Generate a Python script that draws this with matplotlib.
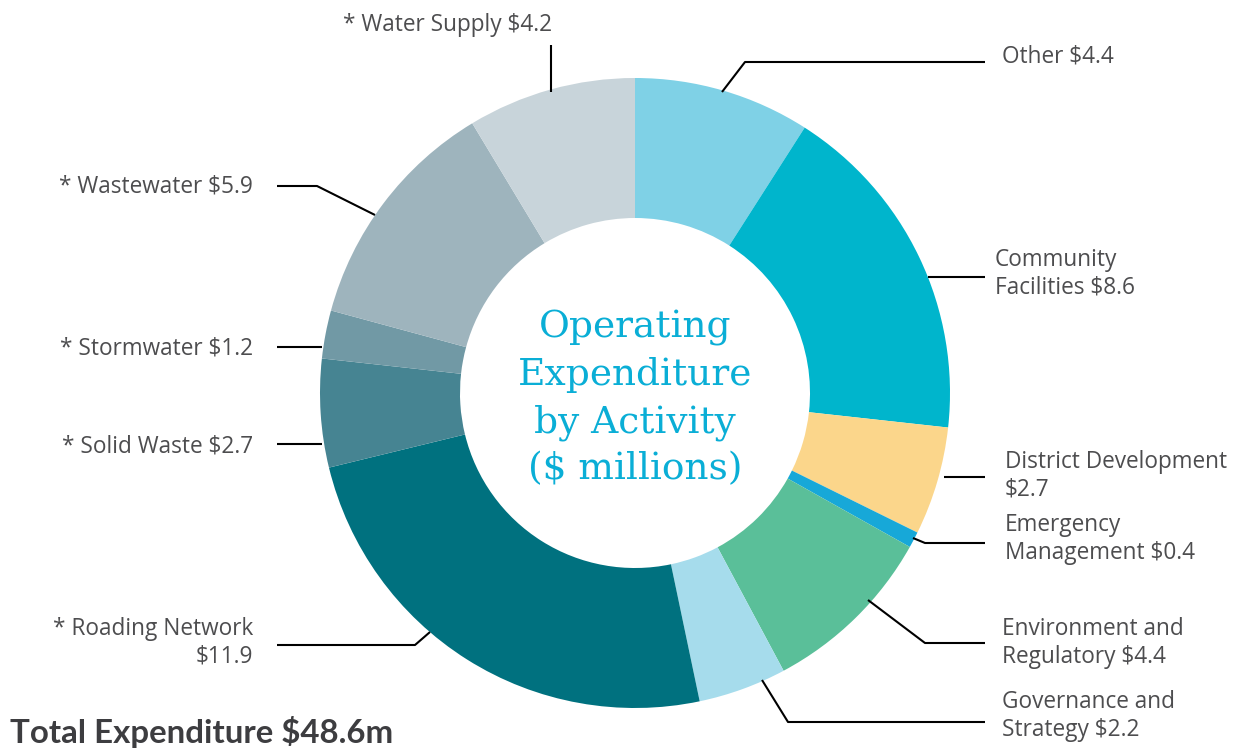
import matplotlib
matplotlib.use("Agg")
import matplotlib.pyplot as plt

categories = ["Other", "Community Facilities", "District Development", "Emergency Management",
              "Environment and Regulatory", "Governance and Strategy", "* Roading Network",
              "* Solid Waste", "* Stormwater", "* Wastewater", "* Water Supply"]
values = [4.4, 8.6, 2.7, 0.4, 4.4, 2.2, 11.9, 2.7, 1.2, 5.9, 4.2]
colors = ["#7fd1e6", "#00b5cc", "#fbd68b", "#17a8d8", "#5abf99", "#a6dcec", "#00717f",
          "#468492", "#7199a5", "#9eb4bd", "#c8d4da"]
label_texts = ["Other $4.4", "Community\nFacilities $8.6", "District Development\n$2.7",
               "Emergency\nManagement $0.4", "Environment and\nRegulatory $4.4",
               "Governance and\nStrategy $2.2", "* Roading Network\n$11.9",
               "* Solid Waste $2.7", "* Stormwater $1.2", "* Wastewater $5.9",
               "* Water Supply $4.2"]
total_label = "Total Expenditure $48.6m"
center_title = "Operating\nExpenditure\nby Activity\n($ millions)"

W, H = 1250, 749
fig = plt.figure(figsize=(W / 100, H / 100), dpi=100)
ax = fig.add_axes([0, 0, 1, 1])

def Y(y):
    return H - y

cx, cy, R, r_in = 635, 393, 315, 175
ax.pie(values, colors=colors, startangle=90, counterclock=False, center=(cx, Y(cy)),
       radius=R, wedgeprops=dict(width=R - r_in, linewidth=0), frame=True)
ax.set_xlim(0, W)
ax.set_ylim(0, H)
ax.set_aspect("equal")
ax.axis("off")

# leader lines (pixel paths)
leaders = [
    [(722, 92), (745, 62), (985, 62)],
    [(928, 277), (985, 277)],
    [(944, 477), (985, 477)],
    [(913, 538), (925, 543), (985, 543)],
    [(868, 600), (925, 643), (985, 643)],
    [(762, 680), (788, 722), (985, 722)],
    [(430, 632), (415, 645), (277, 645)],
    [(322, 444), (277, 444)],
    [(322, 347), (277, 347)],
    [(375, 215), (317, 186), (277, 186)],
    [(551, 92), (551, 45)],
]
for pts in leaders:
    ax.plot([p[0] for p in pts], [Y(p[1]) for p in pts], color="black", lw=1.5,
            solid_capstyle="butt", zorder=3)

lab_color = "#4d4d4f"
fs = 16.3
font = "Open Sans"
# (x, y_center, ha)
label_pos = [
    (1002, 56, "left"),
    (995, 274, "left"),
    (1005, 476, "left"),
    (1005, 539, "left"),
    (1002, 643, "left"),
    (1002, 716, "left"),
    (253, 643, "right"),
    (253, 446, "right"),
    (253, 349, "right"),
    (253, 187, "right"),
    (552, 25, "right"),
]
for txt, (x, y, ha) in zip(label_texts, label_pos):
    ax.text(x, Y(y), txt, ha=ha, va="center", fontsize=fs, color=lab_color,
            family=font, linespacing=1.2, multialignment=ha)

ax.text(cx, Y(399), center_title, ha="center", va="center", fontsize=27,
        color="#0aaed6", family="DejaVu Serif", linespacing=1.39)

ax.text(10, Y(732), total_label, ha="left", va="center", fontsize=23.8,
        color="#3d3d40", family="Lato", fontweight="bold")

fig.savefig("out.png", dpi=100)
